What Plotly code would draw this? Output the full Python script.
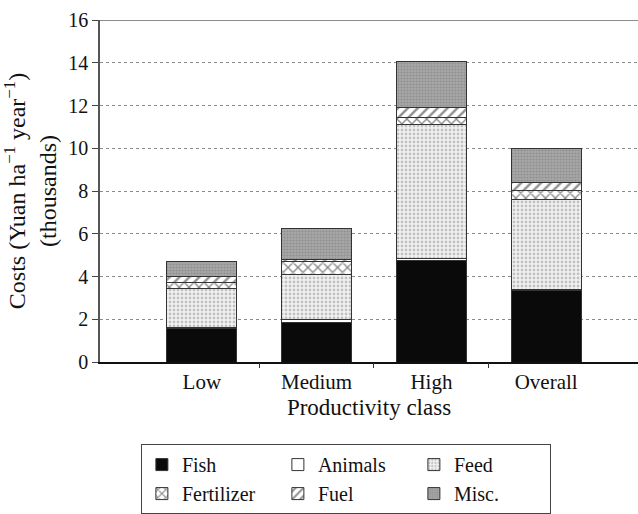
import plotly.graph_objects as go

# Production costs by productivity class (thousand Yuan per ha per year)
classes = ["Low", "Medium", "High", "Overall"]
fish = [1.55, 1.84, 4.77, 3.33]
animals = [0.05, 0.16, 0.05, 0.08]
feed = [1.86, 2.11, 6.30, 4.21]
fertilizer = [0.27, 0.58, 0.31, 0.42]
fuel = [0.29, 0.12, 0.50, 0.36]
misc = [0.67, 1.44, 2.15, 1.58]
y_ticks = [0, 2, 4, 6, 8, 10, 12, 14, 16]
x_range = [-0.887, 3.8]

FONT = "Liberation Serif, Times New Roman, serif"
OUTLINE = dict(color="#333333", width=1)

series = [
    ("Fish", fish, dict(color="#0a0a0a", line=OUTLINE)),
    ("Animals", animals, dict(color="#ffffff", line=OUTLINE)),
    ("Feed", feed, dict(color="#f2f2f2", line=OUTLINE,
                        pattern=dict(shape=".", fgcolor="#8f8f8f", bgcolor="#f2f2f2",
                                     size=4, solidity=0.4))),
    ("Fertilizer", fertilizer, dict(color="#ffffff", line=OUTLINE,
                                    pattern=dict(shape="x", fgcolor="#111111", bgcolor="#ffffff",
                                                 size=7, solidity=0.35))),
    ("Fuel", fuel, dict(color="#ffffff", line=OUTLINE,
                        pattern=dict(shape="/", fgcolor="#222222", bgcolor="#ffffff",
                                     size=7, solidity=0.35))),
    ("Misc.", misc, dict(color="#a6a6a6", line=OUTLINE,
                         pattern=dict(shape=".", fgcolor="#757575", bgcolor="#a8a8a8",
                                      size=3, solidity=0.4))),
]

fig = go.Figure()
for name, vals, marker in series:
    fig.add_trace(go.Bar(x=classes, y=vals, name=name, marker=marker))

# companion axis that only carries the tick marks between the classes
fig.add_trace(go.Scatter(x=[], y=[], xaxis="x2", showlegend=False, hoverinfo="skip"))

fig.update_layout(
    barmode="stack",
    bargap=0.39,
    width=638,
    height=514,
    margin=dict(l=100, r=0, t=20, b=152, autoexpand=False),
    paper_bgcolor="white",
    plot_bgcolor="white",
    font=dict(family=FONT, size=20, color="#111111"),
    showlegend=True,
    legend=dict(
        orientation="h",
        x=0.076, xanchor="left",
        y=-0.24, yanchor="top",
        entrywidth=91, entrywidthmode="pixels",
        bordercolor="#444444", borderwidth=1,
        bgcolor="white",
        font=dict(family=FONT, size=20),
        traceorder="normal",
        tracegroupgap=0,
    ),
    xaxis=dict(
        type="category",
        range=x_range,
        showline=True, linecolor="#111111", linewidth=2,
        ticks="",
        showgrid=False,
        tickfont=dict(family=FONT, size=21),
        title=dict(text="Productivity class", font=dict(family=FONT, size=23), standoff=6),
    ),
    xaxis2=dict(
        overlaying="x", anchor="y", side="bottom",
        range=x_range,
        tickvals=[0.5, 1.5, 2.5],
        ticks="outside", ticklen=5, tickcolor="#333333", tickwidth=1,
        showticklabels=False, showgrid=False, showline=False, zeroline=False,
    ),
    yaxis=dict(
        range=[0, 16],
        tickvals=y_ticks,
        showline=True, linecolor="#555555", linewidth=1.5,
        ticks="outside", ticklen=6, tickcolor="#444444",
        showgrid=True, gridcolor="#8a8a8a", griddash="dot", gridwidth=1,
        zeroline=False,
        tickfont=dict(family=FONT, size=20),
        title=dict(text="Costs (Yuan ha<sup>\u22121</sup> year<sup>\u22121</sup>)<br>(thousands)",
                   font=dict(family=FONT, size=24), standoff=8),
    ),
    shapes=[dict(type="line", xref="paper", yref="y", x0=0, x1=1, y0=16, y1=16,
                 line=dict(color="#666666", width=1.5))],
)

fig.write_html("out.html")
